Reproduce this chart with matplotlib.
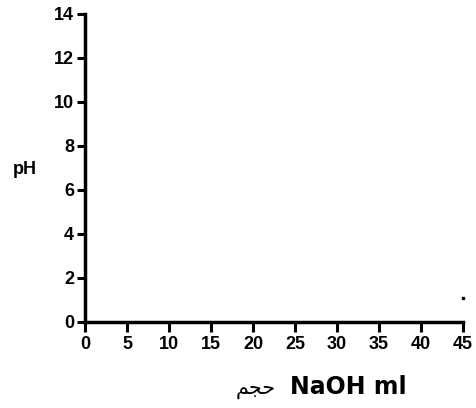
import matplotlib.pyplot as plt

x_ticks = [0, 5, 10, 15, 20, 25, 30, 35, 40, 45]
y_ticks = [0, 2, 4, 6, 8, 10, 12, 14]
point_x = [45]
point_y = [1.1]

plt.rcParams['font.family'] = ['Liberation Sans', 'DejaVu Sans']

fig = plt.figure(figsize=(4.76, 4.08), dpi=100)
ax = fig.add_axes([0.1786, 0.2108, 0.7941, 0.7549])

ax.plot(point_x, point_y, 's', color='black', markersize=2, clip_on=False)

ax.set_xlim(0, 45)
ax.set_ylim(0, 14)
ax.set_xticks(x_ticks)
ax.set_yticks(y_ticks)

for side in ['top', 'right']:
    ax.spines[side].set_visible(False)
for side in ['left', 'bottom']:
    ax.spines[side].set_linewidth(2.5)

ax.tick_params(axis='x', direction='out', length=7, width=2.2, pad=3,
               labelsize=13)
ax.tick_params(axis='y', direction='out', length=6, width=2.2, pad=2,
               labelsize=13)
for lab in ax.get_xticklabels() + ax.get_yticklabels():
    lab.set_fontweight('bold')

fig.text(0.053, 0.585, 'pH', fontsize=13, fontweight='bold', ha='center', va='center')

# x label: arabic word + bold latin part
fig.text(0.609, 0.035, 'NaOH ml', fontsize=17, fontweight='bold',
         ha='left', va='baseline', family=['DejaVu Sans'])
fig.text(0.580, 0.035, '\ufee2\ufea0\ufea3', fontsize=15,
         ha='right', va='baseline', family=['DejaVu Sans'])

fig.savefig('out.png', dpi=100)
